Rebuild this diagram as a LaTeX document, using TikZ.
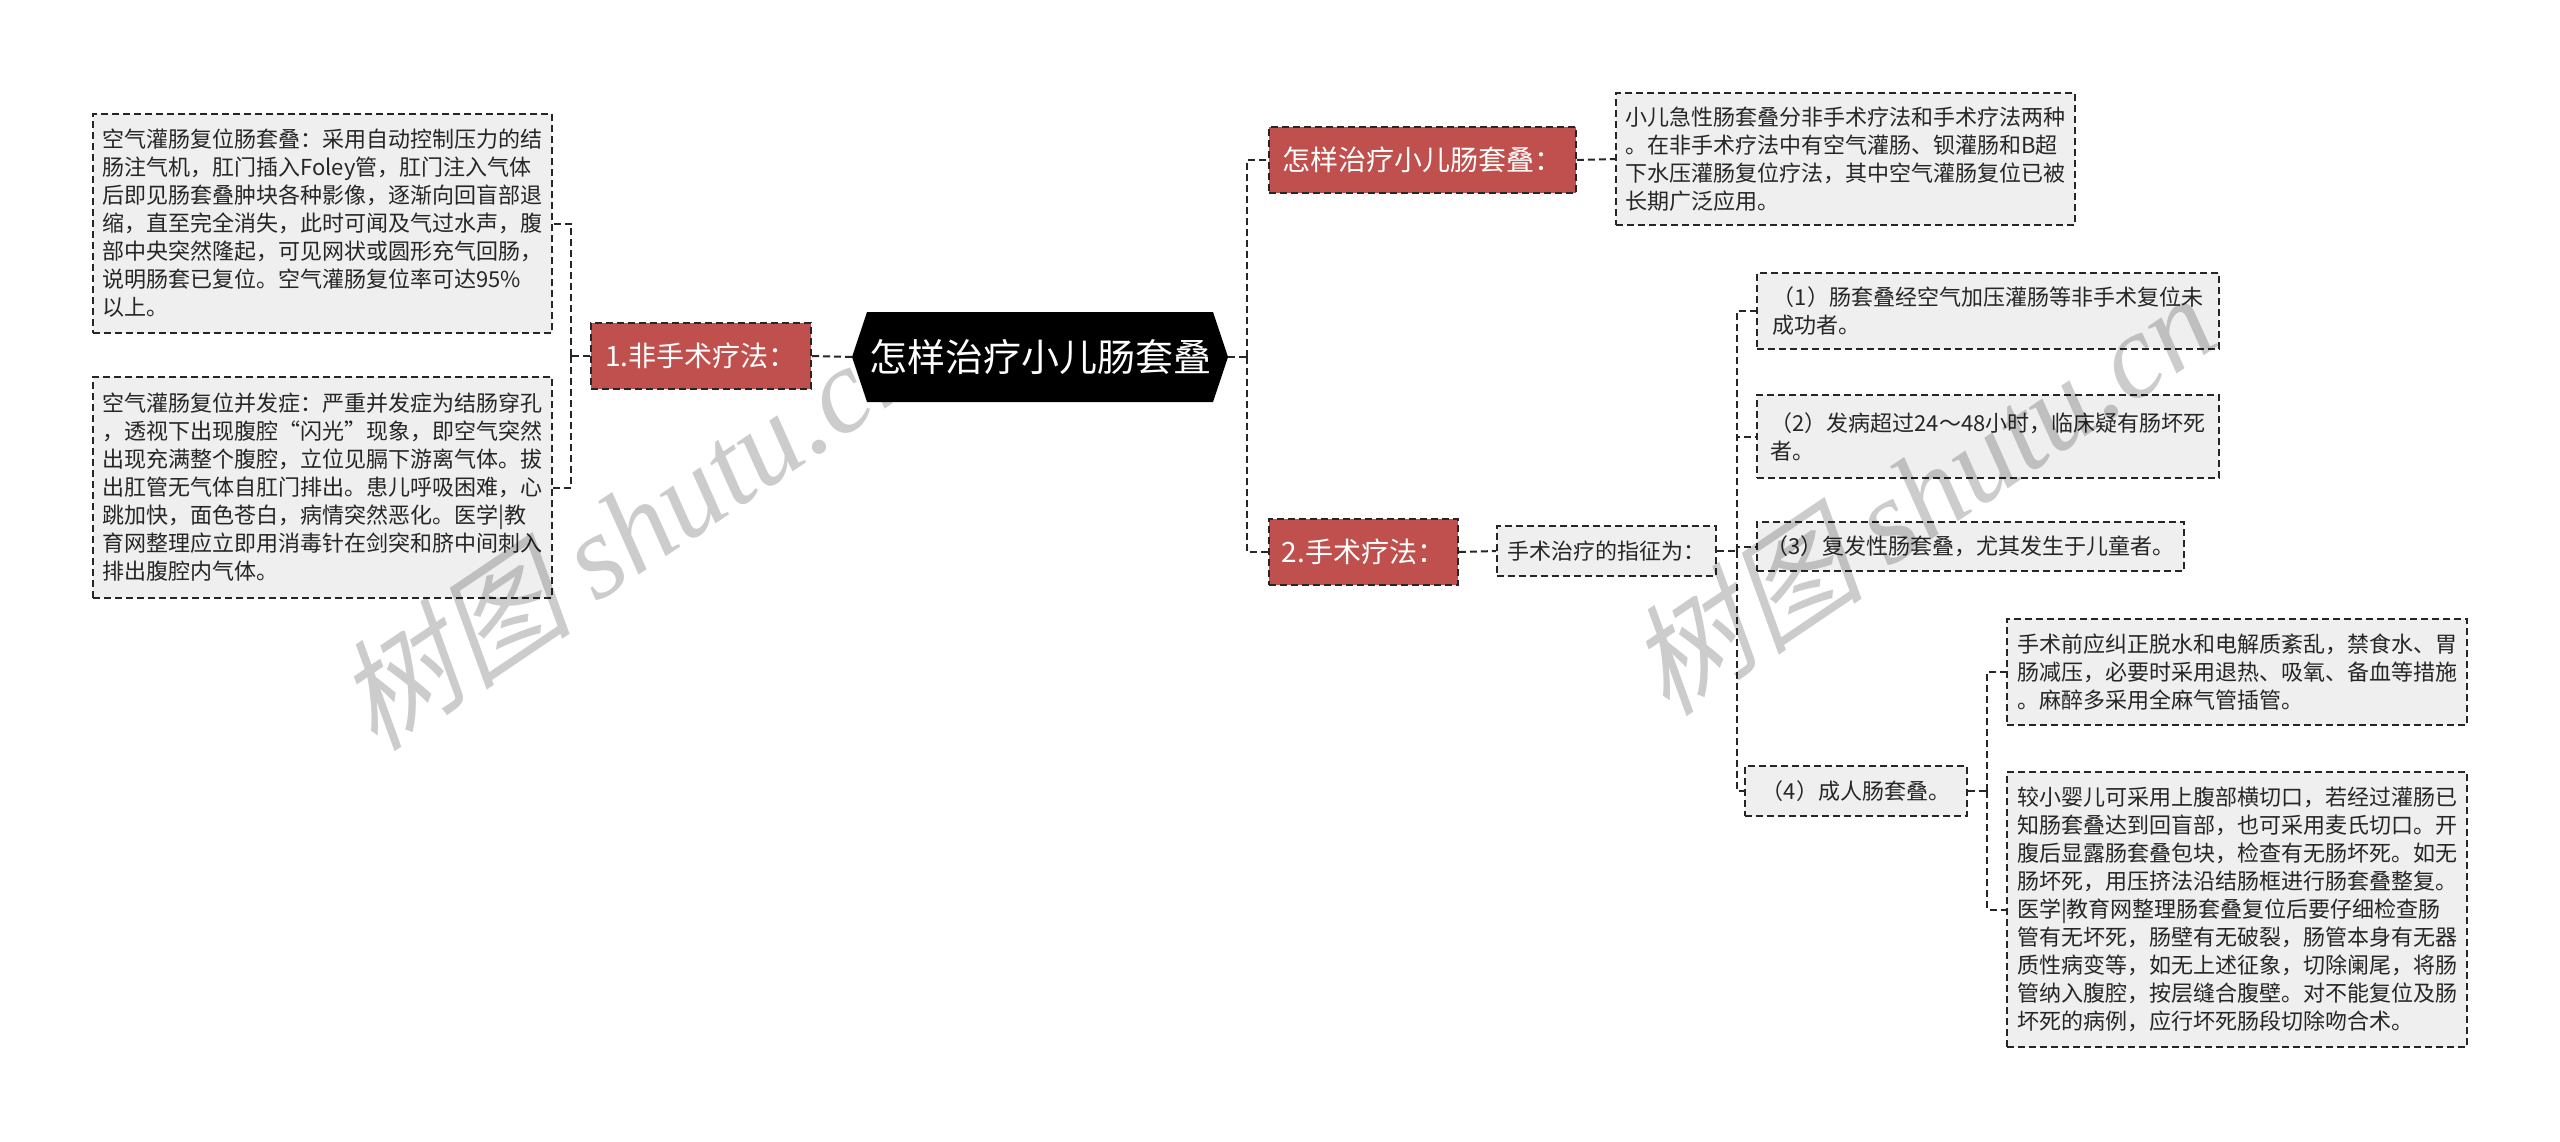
\documentclass[tikz,border=0pt]{standalone}
\usepackage{fontspec}
\setmainfont{Noto Sans CJK SC}
\newfontfamily\wmcjk[FakeSlant=0.25]{Noto Sans CJK SC}
\newfontfamily\wmlat{Liberation Serif}
\definecolor{redbox}{HTML}{C0504D}
\definecolor{boxfill}{HTML}{EFEFEF}
\definecolor{edge}{HTML}{262626}
\tikzset{
  dsh/.style={dash pattern=on 3.5pt off 2pt},
  conn/.style={draw=edge, line width=1pt, dsh},
  redn/.style={draw=edge, line width=0.9pt, dsh, fill=redbox, text=white,
    font=\fontsize{14pt}{17pt}\selectfont, inner sep=0pt, minimum height=33pt},
  tbox/.style={draw=edge, line width=0.9pt, dsh, fill=boxfill, text=black!85,
    font=\fontsize{11pt}{14pt}\selectfont, align=left, inner sep=0pt},
  ctext/.style={text=white, font=\fontsize{19pt}{22pt}\selectfont, inner sep=0pt},
  wm/.style={text=black, opacity=0.2, rotate=34}
}
\begin{document}
\begin{tikzpicture}[x=0.5pt,y=-0.5pt]
\useasboundingbox (0,0) rectangle (2560,1141);
\fill[white] (0,0) rectangle (2560,1141);

\coordinate (cL) at (852,357);
\coordinate (cR) at (1228,357);

% red nodes
\node[redn, minimum width=110pt] (r1) at (701,356) {1.非手术疗法：};
\node[redn, minimum width=153.5pt] (rT) at (1422.5,160) {怎样治疗小儿肠套叠：};
\node[redn, minimum width=94.5pt] (r2) at (1363.5,552) {2.手术疗法：};

% left text boxes
\node[tbox, minimum width=229.5pt, minimum height=109.5pt] (L1) at (322.5,223.5) {空气灌肠复位肠套叠：采用自动控制压力的结\\肠注气机，肛门插入Foley管，肛门注入气体\\后即见肠套叠肿块各种影像，逐渐向回盲部退\\缩，直至完全消失，此时可闻及气过水声，腹\\部中央突然隆起，可见网状或圆形充气回肠，\\说明肠套已复位。空气灌肠复位率可达95\%\\以上。};
\node[tbox, minimum width=229.5pt, minimum height=110.5pt] (L2) at (322.5,487.5) {空气灌肠复位并发症：严重并发症为结肠穿孔\\，透视下出现腹腔“闪光”现象，即空气突然\\出现充满整个腹腔，立位见膈下游离气体。拔\\出肛管无气体自肛门排出。患儿呼吸困难，心\\跳加快，面色苍白，病情突然恶化。医学|教\\育网整理应立即用消毒针在剑突和脐中间刺入\\排出腹腔内气体。};

% right side
\node[tbox, minimum width=229.5pt, minimum height=66pt] (T) at (1845.5,159) {小儿急性肠套叠分非手术疗法和手术疗法两种\\。在非手术疗法中有空气灌肠、钡灌肠和B超\\下水压灌肠复位疗法，其中空气灌肠复位已被\\长期广泛应用。};
\node[tbox, minimum width=109.5pt, minimum height=25pt] (Z) at (1606.5,551) {手术治疗的指征为：};
\node[tbox, minimum width=231pt, minimum height=38pt] (I1) at (1988,311) {（1）肠套叠经空气加压灌肠等非手术复位未\\成功者。};
\node[tbox, minimum width=231pt, minimum height=41.5pt] (I2) at (1988,436.5) {（2）发病超过24～48小时，临床疑有肠坏死\\者。};
\node[tbox, minimum width=213.5pt, minimum height=24.5pt] (I3) at (1970.5,546.5) {（3）复发性肠套叠，尤其发生于儿童者。};
\node[tbox, minimum width=111pt, minimum height=25pt] (I4) at (1856,791) {（4）成人肠套叠。};
\node[tbox, minimum width=230pt, minimum height=53pt] (P1) at (2237,672) {手术前应纠正脱水和电解质紊乱，禁食水、胃\\肠减压，必要时采用退热、吸氧、备血等措施\\。麻醉多采用全麻气管插管。};
\node[tbox, minimum width=230pt, minimum height=137.5pt] (P2) at (2237,909.5) {较小婴儿可采用上腹部横切口，若经过灌肠已\\知肠套叠达到回盲部，也可采用麦氏切口。开\\腹后显露肠套叠包块，检查有无肠坏死。如无\\肠坏死，用压挤法沿结肠框进行肠套叠整复。\\医学|教育网整理肠套叠复位后要仔细检查肠\\管有无坏死，肠壁有无破裂，肠管本身有无器\\质性病变等，如无上述征象，切除阑尾，将肠\\管纳入腹腔，按层缝合腹壁。对不能复位及肠\\坏死的病例，应行坏死肠段切除吻合术。};

% junctions
\coordinate (jL) at (571,356);
\coordinate (jR) at (1247,357);
\coordinate (jZ) at (1737,551);
\coordinate (jP) at (1987,791);

% connectors
\draw[conn] (cL) -- (r1.east);
\draw[conn] (r1.west) -- (jL);
\draw[conn] (jL) |- (L1.east);
\draw[conn] (jL) |- (L2.east);
\draw[conn] (cR) -- (jR);
\draw[conn] (jR) |- (rT.west);
\draw[conn] (jR) |- (r2.west);
\draw[conn] (rT.east) -- (T.west);
\draw[conn] (r2.east) -- (Z.west);
\draw[conn] (Z.east) -- (jZ);
\draw[conn] (jZ) |- (I1.west);
\draw[conn] (jZ) |- (I2.west);
\draw[conn] (jZ) |- (I3.west);
\draw[conn] (jZ) |- (I4.west);
\draw[conn] (I4.east) -- (jP);
\draw[conn] (jP) |- (P1.west);
\draw[conn] (jP) |- (P2.west);

% watermarks
\node[wm] (w1) at (628,528) {\fontsize{60pt}{60pt}\selectfont\wmcjk 树图\ \wmlat\itshape shutu.cn};
\node[wm] (w2) at (1920,493) {\fontsize{60pt}{60pt}\selectfont\wmcjk 树图\ \wmlat\itshape shutu.cn};

% central node (on top)
\fill[black] (852,357) -- (867,312) -- (1213,312) -- (1228,357) -- (1213,402) -- (867,402) -- cycle;
\node[ctext] (c) at (1040,357) {怎样治疗小儿肠套叠};
\end{tikzpicture}
\end{document}
